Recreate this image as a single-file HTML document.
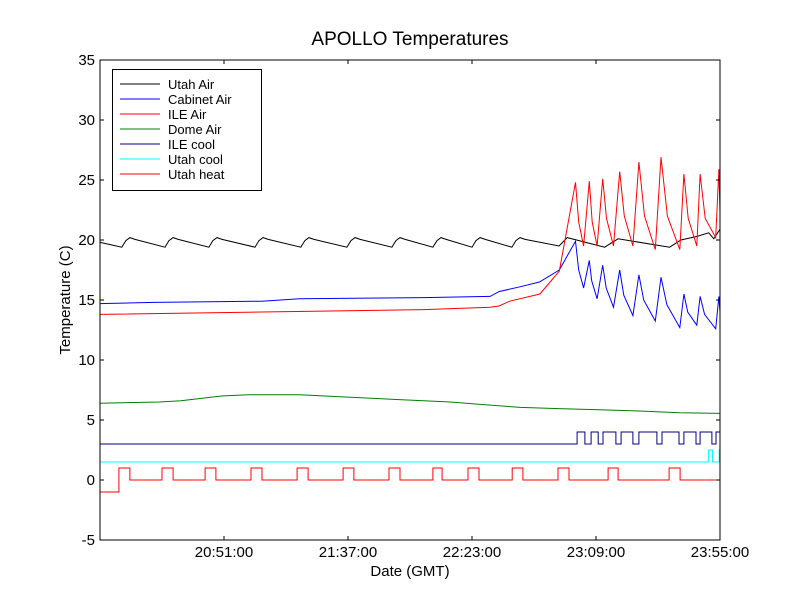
<!DOCTYPE html>
<html><head><meta charset="utf-8"><style>
body{margin:0;background:#fff}
svg{display:block;font-family:"Liberation Sans","DejaVu Sans",sans-serif}
</style></head><body>
<svg id="chart" width="800" height="600" viewBox="0 0 800 600">
<rect width="800" height="600" fill="#fff"/>
<text x="410" y="45" font-size="19" text-anchor="middle">APOLLO Temperatures</text>
<g id="plot"></g>
<text x="410" y="576" font-size="15" text-anchor="middle">Date (GMT)</text>
<text x="70" y="300" font-size="15" text-anchor="middle" transform="rotate(-90 70 300)">Temperature (C)</text>
</svg>
<script>
// x in minutes since 20:05 GMT
const xTickVals=[46,92,138,184,230];
const xTickLabels=["20:51:00","21:37:00","22:23:00","23:09:00","23:55:00"];
const yTickVals=[-5,0,5,10,15,20,25,30,35];
const utahAirT=[0,4,8.1,9.6,11.1,13,24.1,25.6,27.1,29,40.4,41.9,43.4,45.3,57.5,59,60.5,62.4,74.5,76,77.5,79.4,91.6,93.1,94.6,96.5,108.3,109.8,111.3,113.2,123.5,125,126.5,128.4,138,139.5,141,142.9,152.8,154.3,155.8,157.7,170.3,173.3,187.2,192.2,211.3,215.5,221.5,225.8,227.7,230];
const utahAirV=[19.8,19.6,19.4,19.95,20.2,20.05,19.4,19.95,20.2,20.05,19.4,19.95,20.2,20.05,19.4,19.95,20.2,20.05,19.4,19.95,20.2,20.05,19.4,19.95,20.2,20.05,19.4,19.95,20.2,20.05,19.4,19.95,20.2,20.05,19.4,19.95,20.2,20.05,19.4,19.95,20.2,20.05,19.5,20.2,19.4,20.1,19.4,20.0,20.3,20.6,20.1,20.9];
const cabT=[0,20,60,74,120,144.7,148,155.8,163,170.4,176.4,177.6,179.4,181.5,182.4,184.4,186.5,187.8,190.5,192.8,194.3,197.7,199.9,201.7,206.0,208.1,210.3,215.1,216.6,218.0,221.4,222.6,224.3,228.4,229.6,230];
const cabV=[14.7,14.8,14.9,15.1,15.2,15.3,15.7,16.1,16.5,17.5,19.9,17.5,16.0,18.3,16.6,15.1,17.9,16.0,14.4,17.5,15.4,13.7,17.1,15.0,13.25,16.9,14.6,12.7,15.5,14.0,12.9,15.3,13.8,12.6,15.3,14.0];
const ileAirT=[0,60,120,144.7,148,152,163.2,170.4,176.4,177.6,179.4,181.5,182.6,184.4,186.5,187.9,190.5,192.8,194.5,197.7,199.9,202.0,206.0,208.1,210.5,215.1,216.6,218.2,221.4,222.6,224.5,228.4,229.6,230];
const ileAirV=[13.8,14.0,14.2,14.4,14.5,14.9,15.5,17.4,24.8,21.5,19.5,24.9,21.5,19.5,25.1,21.8,19.5,25.7,22.0,19.5,26.5,22.0,19.2,26.9,22.0,19.2,25.5,21.8,19.5,25.5,21.8,20.2,25.9,22.3];
const domeT=[0,22,30,45,55,74,93,111,130,141,156,170,185,200,215,230];
const domeV=[6.4,6.5,6.6,7.0,7.1,7.1,6.9,6.7,6.5,6.3,6.05,5.95,5.85,5.75,5.6,5.55];
const ileCoolT=[0,177.0,179.9,182.2,184.8,186.6,191.4,193.3,197.7,199.9,206.6,208.5,214.8,216.6,221.1,222.6,227.0,228.5,230];
const ileCoolV=[3,4,3,4,3,4,3,4,3,4,3,4,3,4,3,4,3,4,4];
const utahCoolT=[0,225.7,227.2,229.7,230];
const utahCoolV=[1.5,2.5,1.5,2.5,2.5];
const utahHeatT=[0,7.0,11.1,23.0,27.1,39.0,43.0,56.0,60.1,73.1,77.2,90.2,94.2,107.2,111.3,123.5,126.9,136.5,140.6,152.9,156.9,169.9,174.0,188.5,192.2,211.1,215.2,230];
const utahHeatV=[-1,1,0,1,0,1,0,1,0,1,0,1,0,1,0,1,0,1,0,1,0,1,0,1,0,1,0,0];

const X0=100,X1=720,Y0=60,Y1=540;
const xs=m=>X0+m/230*(X1-X0);
const ys=v=>Y1-(v+5)/40*(Y1-Y0);
const NS="http://www.w3.org/2000/svg";
const plot=document.getElementById('plot');
function mk(tag,attrs){const e=document.createElementNS(NS,tag);for(const k in attrs)e.setAttribute(k,attrs[k]);plot.appendChild(e);return e;}
function linePath(T,V){return T.map((t,i)=>(i?'L':'M')+xs(t).toFixed(1)+','+ys(V[i]).toFixed(1)).join('');}
function stepPath(T,V){let d='M'+xs(T[0])+','+ys(V[0]);for(let i=1;i<T.length;i++){d+='L'+xs(T[i]).toFixed(1)+','+ys(V[i-1]).toFixed(1)+'L'+xs(T[i]).toFixed(1)+','+ys(V[i]).toFixed(1);}return d;}
const series=[
 ["Utah Air","#000",linePath(utahAirT,utahAirV),"series-utah-air"],
 ["Cabinet Air","#0000ff",linePath(cabT,cabV),"series-cabinet-air"],
 ["ILE Air","#ff0000",linePath(ileAirT,ileAirV),"series-ile-air"],
 ["Dome Air","#008000",linePath(domeT,domeV),"series-dome-air"],
 ["ILE cool","#000080",stepPath(ileCoolT,ileCoolV),"series-ile-cool"],
 ["Utah cool","#00ffff",stepPath(utahCoolT,utahCoolV),"series-utah-cool"],
 ["Utah heat","#ff0000",stepPath(utahHeatT,utahHeatV),"series-utah-heat"]
];
const clip=mk('clipPath',{id:'pc'});
const cr=document.createElementNS(NS,'rect');cr.setAttribute('x',X0);cr.setAttribute('y',Y0);cr.setAttribute('width',X1-X0);cr.setAttribute('height',Y1-Y0);clip.appendChild(cr);
series.forEach(s=>{
 const p=mk('path',{d:s[2],fill:'none',stroke:s[1],'stroke-width':1,'clip-path':'url(#pc)'});
 
 
});
const frame=mk('rect',{x:X0,y:Y0,width:X1-X0,height:Y1-Y0,fill:'none',stroke:'#000','stroke-width':1});


xTickVals.forEach((v,i)=>{
 const x=xs(v);
 mk('line',{x1:x,y1:Y1,x2:x,y2:Y1-4,stroke:'#000'});
 mk('line',{x1:x,y1:Y0,x2:x,y2:Y0+4,stroke:'#000'});
 const t=mk('text',{x:x,y:Y1+17,'font-size':15,'text-anchor':'middle'});t.textContent=xTickLabels[i];
 
 
});
yTickVals.forEach(v=>{
 const y=ys(v);
 mk('line',{x1:X0,y1:y,x2:X0+4,y2:y,stroke:'#000'});
 mk('line',{x1:X1,y1:y,x2:X1-4,y2:y,stroke:'#000'});
 const t=mk('text',{x:X0-5,y:y+5,'font-size':15,'text-anchor':'end'});t.textContent=v;
 
 
});
const lg=mk('rect',{x:112.5,y:69.5,width:149,height:121,fill:'#fff',stroke:'#000'});


series.forEach((s,i)=>{
 const y=84+i*15;
 mk('line',{x1:120,y1:y,x2:160,y2:y,stroke:s[1]});
 const t=mk('text',{x:168,y:y+5,'font-size':13});t.textContent=s[0];
 
 
});
</script>
</body></html>
